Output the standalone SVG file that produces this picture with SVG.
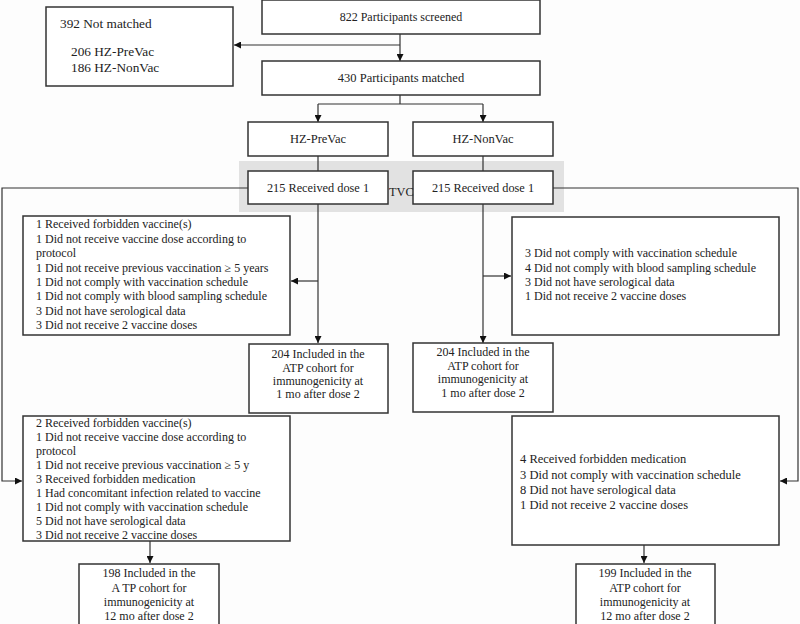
<svg xmlns="http://www.w3.org/2000/svg" width="800" height="624" viewBox="0 0 800 624" font-family="'Liberation Serif', 'DejaVu Serif', 'Times New Roman', serif">
<defs>
<marker id="ah" viewBox="0 0 10 10" refX="10" refY="5" markerWidth="7" markerHeight="7" markerUnits="userSpaceOnUse" orient="auto">
<path d="M0,0 L10,5 L0,10 z" fill="#111"/>
</marker>
<style>
.box{fill:#fff;stroke:#333;stroke-width:1.5}
.t{font-family:'Liberation Serif','DejaVu Serif','Times New Roman',serif;font-size:12px;fill:#222}
.c{text-anchor:middle}
.ln{fill:none;stroke:#333;stroke-width:1.2}
.ar{marker-end:url(#ah)}
</style>
</defs>
<rect width="800" height="624" fill="#fdfdfd"/>
<rect x="239" y="161" width="325" height="51" fill="#e2e2e2"/>

<g id="connectors">
<path class="ln ar" d="M400,34 V61"/>
<path class="ln ar" d="M400,45 H234"/>
<path class="ln" d="M400,95 V104 M318,104 H483"/>
<path class="ln ar" d="M318,104 V122"/>
<path class="ln ar" d="M483,104 V122"/>
<path class="ln" d="M318,156 V171 M483,156 V171"/>
<path class="ln ar" d="M318,204 V343"/>
<path class="ln ar" d="M318,281 H291"/>
<path class="ln ar" d="M483,204 V343"/>
<path class="ln ar" d="M483,276 H511"/>
<path class="ln ar" d="M248,188 H2 V481 H22"/>
<path class="ln ar" d="M553,188 H798 V481 H780"/>
<path class="ln ar" d="M150,541 V563"/>
<path class="ln ar" d="M644,545 V563"/>
</g>

<g id="screened">
<rect class="box" x="262" y="0" width="278" height="34"/>
<text class="t c" x="401" y="21" font-size="12.5">822 Participants screened</text>
</g>
<g id="notmatched">
<rect class="box" x="46" y="7" width="187" height="79"/>
<text class="t" x="60" y="28" style="font-size:13.3px">392 Not matched</text>
<text class="t" x="71" y="56" style="font-size:13.3px">206 HZ-PreVac</text>
<text class="t" x="71" y="72" style="font-size:13.3px">186 HZ-NonVac</text>
</g>
<g id="matched">
<rect class="box" x="262" y="61" width="278" height="34"/>
<text class="t c" x="401" y="82" style="font-size:12.5px">430 Participants matched</text>
</g>
<g id="prevac">
<rect class="box" x="248" y="122" width="140" height="34"/>
<text class="t c" x="318" y="143" style="font-size:12.5px">HZ-PreVac</text>
</g>
<g id="nonvac">
<rect class="box" x="413" y="122" width="140" height="34"/>
<text class="t c" x="483" y="143" style="font-size:12.5px">HZ-NonVac</text>
</g>
<g id="dose1left">
<rect class="box" x="248" y="171" width="140" height="33"/>
<text class="t c" x="318" y="192" style="font-size:12.3px">215 Received dose 1</text>
</g>
<g id="dose1right">
<rect class="box" x="413" y="171" width="140" height="33"/>
<text class="t c" x="483" y="192" style="font-size:12.3px">215 Received dose 1</text>
</g>
<g id="tvc">
<text class="t" x="389" y="196" style="font-size:12.3px">TVC</text>
</g>

<g id="excl1left">
<rect class="box" x="23" y="216" width="267" height="119"/>
<text class="t" x="36" y="228">1 Received forbidden vaccine(s)</text>
<text class="t" x="36" y="243">1 Did not receive vaccine dose according to</text>
<text class="t" x="36" y="257">protocol</text>
<text class="t" x="36" y="272">1 Did not receive previous vaccination ≥ 5 years</text>
<text class="t" x="36" y="286">1 Did not comply with vaccination schedule</text>
<text class="t" x="36" y="300">1 Did not comply with blood sampling schedule</text>
<text class="t" x="36" y="315">3 Did not have serological data</text>
<text class="t" x="36" y="329">3 Did not receive 2 vaccine doses</text>
</g>
<g id="excl1right">
<rect class="box" x="512" y="217" width="267" height="118"/>
<text class="t" x="525" y="257">3 Did not comply with vaccination schedule</text>
<text class="t" x="525" y="272">4 Did not comply with blood sampling schedule</text>
<text class="t" x="525" y="286">3 Did not have serological data</text>
<text class="t" x="525" y="300">1 Did not receive 2 vaccine doses</text>
</g>
<g id="atp1left">
<rect class="box" x="249" y="344" width="139" height="69"/>
<text class="t c" x="318" y="358">204 Included in the</text>
<text class="t c" x="318" y="372">ATP cohort for</text>
<text class="t c" x="318" y="385">immunogenicity at</text>
<text class="t c" x="318" y="398">1 mo after dose 2</text>
</g>
<g id="atp1right">
<rect class="box" x="413" y="343" width="140" height="69"/>
<text class="t c" x="483" y="356">204 Included in the</text>
<text class="t c" x="483" y="370">ATP cohort for</text>
<text class="t c" x="483" y="383">immunogenicity at</text>
<text class="t c" x="483" y="397">1 mo after dose 2</text>
</g>
<g id="excl2left">
<rect class="box" x="23" y="416" width="267" height="125"/>
<text class="t" x="36" y="427">2 Received forbidden vaccine(s)</text>
<text class="t" x="36" y="441">1 Did not receive vaccine dose according to</text>
<text class="t" x="36" y="455">protocol</text>
<text class="t" x="36" y="469">1 Did not receive previous vaccination ≥ 5 y</text>
<text class="t" x="36" y="483">3 Received forbidden medication</text>
<text class="t" x="36" y="497">1 Had concomitant infection related to vaccine</text>
<text class="t" x="36" y="511">1 Did not comply with vaccination schedule</text>
<text class="t" x="36" y="525">5 Did not have serological data</text>
<text class="t" x="36" y="539">3 Did not receive 2 vaccine doses</text>
</g>
<g id="excl2right">
<rect class="box" x="512" y="416" width="267" height="129"/>
<text class="t" x="520" y="463" style="font-size:12.5px">4 Received forbidden medication</text>
<text class="t" x="520" y="479" style="font-size:12.5px">3 Did not comply with vaccination schedule</text>
<text class="t" x="520" y="494" style="font-size:12.5px">8 Did not have serological data</text>
<text class="t" x="520" y="509" style="font-size:12.5px">1 Did not receive 2 vaccine doses</text>
</g>
<g id="atp12left">
<rect class="box" x="79" y="564" width="140" height="64"/>
<text class="t c" x="149" y="577">198 Included in the</text>
<text class="t c" x="149" y="592">A TP cohort for</text>
<text class="t c" x="149" y="606">immunogenicity at</text>
<text class="t c" x="149" y="620">12 mo after dose 2</text>
</g>
<g id="atp12right">
<rect class="box" x="576" y="564" width="139" height="64"/>
<text class="t c" x="645" y="577">199 Included in the</text>
<text class="t c" x="645" y="592">ATP cohort for</text>
<text class="t c" x="645" y="606">immunogenicity at</text>
<text class="t c" x="645" y="620">12 mo after dose 2</text>
</g>
</svg>
